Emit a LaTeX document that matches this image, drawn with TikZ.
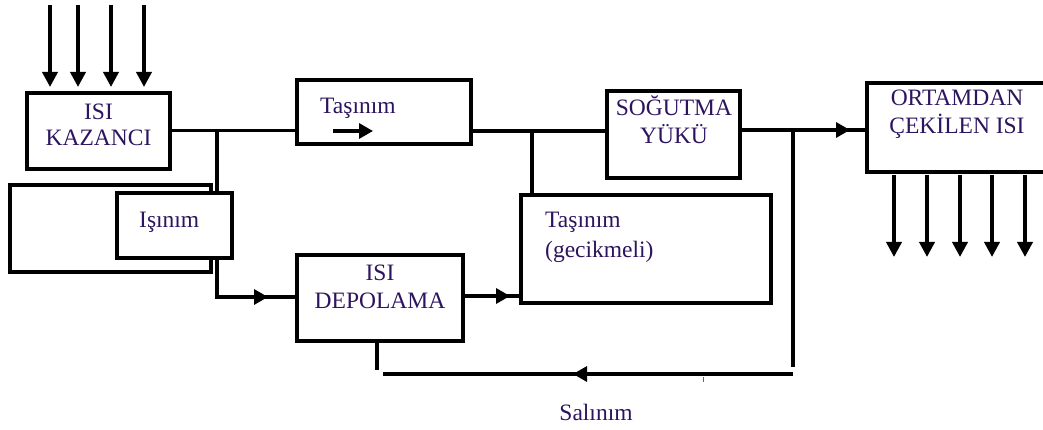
\documentclass[tikz,border=0pt]{standalone}
\usepackage{fontspec}
\setmainfont{Liberation Serif}
\usetikzlibrary{arrows.meta}
\definecolor{txtcol}{RGB}{45,20,95}
\tikzset{
  box/.style={draw=black, line width=3.3pt, fill=white, inner sep=0pt, rectangle},
  conn/.style={draw=black, line width=3.2pt},
  heat/.style={draw=black, line width=3.6pt, -{Triangle[length=15pt,width=15pt]}},
  tip/.style={draw=black, line width=3.2pt, -{Triangle[length=14pt,width=15pt]}},
  lbl/.style={text=txtcol, font=\fontsize{23.5}{26}\selectfont, inner sep=0pt},
}
\begin{document}
\begin{tikzpicture}[x=1pt, y=-1pt]
\useasboundingbox (0,0) rectangle (1043,430);
\clip (0,0) rectangle (1043,430);

% incoming heat arrows
\foreach \i/\x in {1/50, 2/78, 3/111, 4/144} {
  \coordinate (in\i) at (\x,5);
  \coordinate (kt\i) at (\x,87);
  \draw[heat] (in\i) -- (kt\i);
}

% boxes
\node[box, minimum width=143pt, minimum height=76pt] (kaz) at (98.5,131) {};
\node[box, minimum width=174pt, minimum height=64pt] (tas) at (384,112) {};
\node[box, minimum width=201pt, minimum height=87pt] (back) at (110.5,228.5) {};
\node[box, minimum width=115pt, minimum height=65pt] (isin) at (174.5,225.5) {};
\node[box, minimum width=166pt, minimum height=86pt] (dep) at (380,298) {};
\node[box, minimum width=250pt, minimum height=108pt] (gec) at (646,249) {};
\node[box, minimum width=133pt, minimum height=87pt] (sog) at (673.5,134.5) {};
\node[box, minimum width=183pt, minimum height=89pt] (ort) at (958.5,127.5) {};

% junctions and bends
\coordinate (j1) at (217,130.5);
\coordinate (b1) at (217,297);
\coordinate (a1) at (268,297);
\coordinate (a2) at (510,296);
\coordinate (j2) at (532,131);
\coordinate (j3) at (793,130);
\coordinate (a3) at (850,130);
\coordinate (r1) at (793,367);
\coordinate (r2) at (793,374);
\coordinate (a4) at (573,374);
\coordinate (l1) at (383,374);
\coordinate (d1) at (377,370);

% connector lines
\draw[conn] (kaz.east |- j1) -- (tas.west |- j1);
\draw[conn] (j1) -- (j1 |- isin.north);
\draw[conn] (isin.south -| b1) -- (b1) -- (dep.west |- b1);
\draw[conn] (dep.east |- a2) -- (gec.west |- a2);
\draw[conn] (tas.east |- j2) -- (sog.west |- j2);
\draw[conn] (j2) -- (j2 |- gec.north);
\draw[conn] (sog.east |- j3) -- (ort.west |- j3);
\draw[conn] (j3) -- (r1);
\draw[conn] (r2) -- (l1);
\draw[conn] (dep.south -| d1) -- (d1);
\draw[black!60, line width=1pt] (703,377) -- (703,382);

% arrowheads along the connectors
\draw[tip] (b1) -- (a1);
\draw[tip] (dep.east |- a2) -- (a2);
\draw[tip] (sog.east |- j3) -- (a3);
\draw[tip] (r2) -- (a4);

% redraw box tops over connector ends
\node[box, minimum width=115pt, minimum height=65pt] at (isin) {};
\node[box, minimum width=174pt, minimum height=64pt] at (tas) {};

% small arrow inside the convection box
\coordinate (sa1) at (333,131);
\coordinate (sa2) at (373,131);
\draw[tip] (sa1) -- (sa2);

% outgoing heat arrows
\foreach \i/\x in {1/894, 2/927, 3/960, 4/992, 5/1025} {
  \coordinate (os\i) at (\x,175);
  \coordinate (oe\i) at (\x,257);
  \draw[heat] (os\i) -- (oe\i);
}

% labels
\node[lbl, anchor=base] (t1) at (98.5,120) {ISI};
\node[lbl, anchor=base] (t2) at (98.5,146) {KAZANCI};
\node[lbl, anchor=base west] (t3) at (320,114) {Taşınım};
\node[lbl, anchor=base west] (t4) at (139,228) {Işınım};
\node[lbl, anchor=base] (t5) at (674,116) {SOĞUTMA};
\node[lbl, anchor=base] (t6) at (674,144) {YÜKÜ};
\node[lbl, anchor=base] (t7) at (380,280) {ISI};
\node[lbl, anchor=base] (t8) at (380,308) {DEPOLAMA};
\node[lbl, anchor=base west] (t9) at (545,228) {Taşınım};
\node[lbl, anchor=base west] (t10) at (545,258) {(gecikmeli)};
\node[lbl, anchor=base] (t11) at (957,106) {ORTAMDAN};
\node[lbl, anchor=base] (t12) at (957,134) {ÇEKİLEN ISI};
\node[lbl, anchor=base] (t13) at (596,420) {Salınım};
\end{tikzpicture}
\end{document}
